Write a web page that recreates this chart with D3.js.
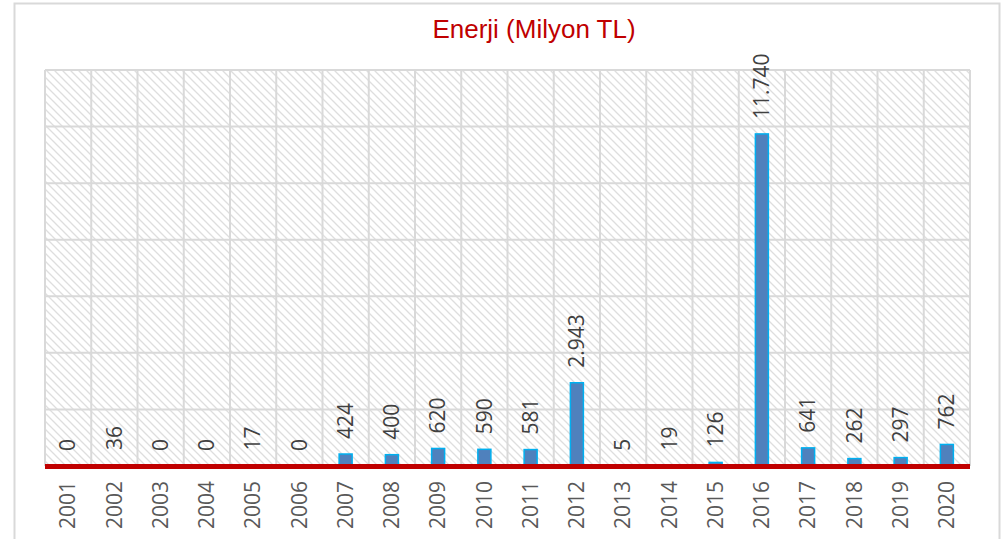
<!DOCTYPE html>
<html>
<head>
<meta charset="utf-8">
<script src="https://cdn.jsdelivr.net/npm/d3@7"></script>
<style>
  body { margin: 0; background: #fff; }
  svg { display: block; }
</style>
</head>
<body>
<div id="output"></div>
<script>
(function () {

"use strict";

var years = [ "2001", "2002", "2003", "2004", "2005", "2006", "2007", "2008", "2009", "2010",
              "2011", "2012", "2013", "2014", "2015", "2016", "2017", "2018", "2019", "2020" ]
var values = [ 0, 36, 0, 0, 17, 0, 424, 400, 620, 590,
               581, 2943, 5, 19, 126, 11740, 641, 262, 297, 762 ]
var yTicks = [ 0, 2000, 4000, 6000, 8000, 10000, 12000, 14000 ]
var title = "Enerji (Milyon TL)"

var width = 1003
  , height = 539
  , left = 45, right = 970, top = 70, bottom = 466

var svg = d3.select("#output").append("svg").attr("width", width).attr("height", height)

// hatch pattern for the plot area
var pat = svg.append("defs").append("pattern")
  .attr("id", "hatch")
  .attr("patternUnits", "userSpaceOnUse")
  .attr("width", 8).attr("height", 8)
pat.append("rect").attr("width", 8).attr("height", 8).attr("fill", "#fff")
pat.append("path")
  .attr("d", "M-2,-2 L10,10 M-2,6 L2,10 M6,-2 L10,2")
  .attr("stroke", "#dedede")
  .attr("stroke-width", 1.3)

// outer chart border
svg.append("rect")
  .attr("x", 14.5).attr("y", 3.5).attr("width", 985).attr("height", 545)
  .attr("fill", "#fff").attr("stroke", "#d9d9d9").attr("stroke-width", 2)

var x = d3.scaleBand().domain(years).range([left, right])
var y = d3.scaleLinear().domain([0, 14000]).range([bottom, top])

svg.append("rect")
  .attr("x", left).attr("y", top).attr("width", right - left).attr("height", bottom - top)
  .attr("fill", "url(#hatch)")

// horizontal gridlines
svg.append("g").selectAll("line").data(yTicks).enter().append("line")
  .attr("x1", left).attr("x2", right)
  .attr("y1", function (d) { return y(d) }).attr("y2", function (d) { return y(d) })
  .attr("stroke", "#d9d9d9").attr("stroke-width", 2)

// vertical gridlines between categories
var bounds = years.map(function (d) { return x(d) }).concat([right])
svg.append("g").selectAll("line").data(bounds).enter().append("line")
  .attr("x1", function (d) { return d }).attr("x2", function (d) { return d })
  .attr("y1", top).attr("y2", bottom)
  .attr("stroke", "#d9d9d9").attr("stroke-width", 2)

// bars
var barW = 13
svg.append("g").selectAll("rect").data(values).enter().append("rect")
  .attr("x", function (d, i) { return x(years[i]) + x.bandwidth() / 2 - barW / 2 })
  .attr("y", function (d) { return y(d) })
  .attr("width", barW)
  .attr("height", function (d) { return bottom - y(d) })
  .attr("fill", "#4f81bd")
  .attr("stroke", "#00b0f0").attr("stroke-width", 1.5)
  .style("display", function (d) { return d > 0 ? null : "none" })

// data labels
svg.append("g").selectAll("text").data(values).enter().append("text")
  .attr("transform", function (d, i) {
    return "translate(" + (x(years[i]) + x.bandwidth() / 2) + "," + (y(d) - 15) + ") rotate(-90)"
  })
  .attr("dy", "0.35em")
  .attr("font-family", "Open Sans")
  .attr("font-size", 21)
  .attr("fill", "#404040")
  .text(function (d) { return d3.format(",")(d).replace(/,/g, ".") })

// x axis line
svg.append("line")
  .attr("x1", left).attr("x2", right).attr("y1", 466.5).attr("y2", 466.5)
  .attr("stroke", "#c00000").attr("stroke-width", 5)

// category labels
svg.append("g").selectAll("text").data(years).enter().append("text")
  .attr("transform", function (d) {
    return "translate(" + (x(d) + x.bandwidth() / 2) + ",481) rotate(-90)"
  })
  .attr("dy", "0.35em")
  .attr("text-anchor", "end")
  .attr("font-family", "Open Sans")
  .attr("font-size", 21)
  .attr("fill", "#595959")
  .text(function (d) { return d })

// title
svg.append("text")
  .attr("x", 534).attr("y", 38)
  .attr("text-anchor", "middle")
  .attr("font-family", "Liberation Sans")
  .attr("font-size", 26)
  .attr("fill", "#c00000")
  .text(title)

}())
</script>
</body>
</html>
